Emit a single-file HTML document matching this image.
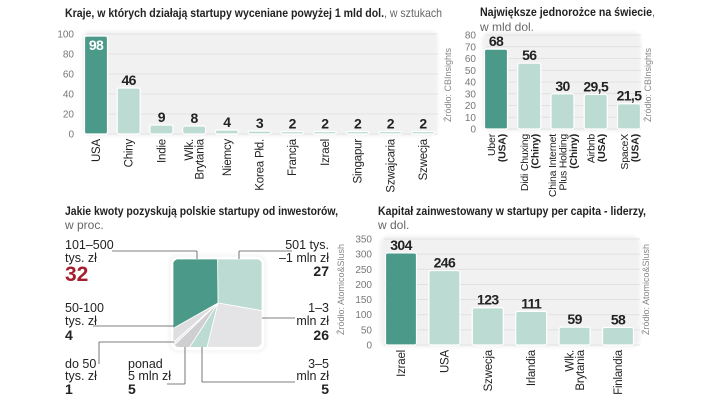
<!DOCTYPE html>
<html><head><meta charset="utf-8">
<style>
html,body{margin:0;padding:0;background:#fff;}
svg{display:block;font-family:"Liberation Sans Narrow","Liberation Sans",sans-serif;}
.t{font-weight:bold;font-size:12px;fill:#222;}
.s{font-size:12px;fill:#666;}
.tick{font-size:10px;fill:#777;}
.cat{font-size:11.5px;fill:#222;letter-spacing:-0.2px;}
.val{font-size:14px;font-weight:bold;fill:#222;letter-spacing:-0.6px;}
.src{font-size:9px;fill:#888;}
.pl{font-size:12.5px;fill:#222;}
.pv{font-size:14px;font-weight:bold;fill:#222;}
</style></head>
<body>
<svg id="root" width="720" height="406" viewBox="0 0 720 406">
<defs>
<filter id="sh" x="-10%" y="-10%" width="120%" height="120%"><feGaussianBlur stdDeviation="1.5"/></filter>
<clipPath id="sq"><rect x="173" y="259" width="89" height="88" rx="6"/></clipPath>
</defs>
<!-- titles -->
<text x="65" y="17" class="t" textLength="377" lengthAdjust="spacingAndGlyphs">Kraje, w których działają startupy wyceniane powyżej 1 mld dol.<tspan class="s" style="font-weight:normal">, w sztukach</tspan></text>
<text x="480" y="16" class="t" textLength="175" lengthAdjust="spacingAndGlyphs">Największe jednorożce na świecie<tspan class="s" style="font-weight:normal">,</tspan></text>
<text x="480" y="31" class="s">w mld dol.</text>
<text x="65" y="215" class="t" textLength="273" lengthAdjust="spacingAndGlyphs">Jakie kwoty pozyskują polskie startupy od inwestorów,</text>
<text x="65" y="229" class="s">w proc.</text>
<text x="378" y="215" class="t" textLength="268" lengthAdjust="spacingAndGlyphs">Kapitał zainwestowany w startupy per capita - liderzy,</text>
<text x="378" y="229" class="s">w dol.</text>
<text transform="translate(451,122) rotate(-90)" class="src">Źródło: CBInsights</text>
<text transform="translate(651,122) rotate(-90)" class="src">Źródło: CBInsights</text>
<text transform="translate(344,335) rotate(-90)" class="src">Źródło: Atomico&amp;Slush</text>
<text transform="translate(649,335) rotate(-90)" class="src">Źródło: Atomico&amp;Slush</text>
<g id="g1"></g><g id="g2"></g><g id="g3"></g><g id="g4"></g>
</svg>
<script>
// Chart 1 data
const c1Cats = [["USA"],["Chiny"],["Indie"],["Wlk.","Brytania"],["Niemcy"],["Korea Płd."],["Francja"],["Izrael"],["Singapur"],["Szwajcaria"],["Szwecja"]];
const c1Vals = [98,46,9,8,4,3,2,2,2,2,2];
const c1Ticks = [0,20,40,60,80,100];
// Chart 2 data
const c2Cats = [["Uber","(USA)"],["Didi Chuxing","(Chiny)"],["China Internet","Plus Holding","(Chiny)"],["Airbnb","(USA)"],["SpaceX","(USA)"]];
const c2Vals = [68,56,30,29.5,21.5];
const c2Labels = ["68","56","30","29,5","21,5"];
const c2Ticks = [0,10,20,30,40,50,60,70,80];
// Chart 3 data (clockwise from top)
const c3Names = ["501 tys.–1 mln zł","1–3 mln zł","3–5 mln zł","ponad 5 mln zł","do 50 tys. zł","50-100 tys. zł","101–500 tys. zł"];
const c3Vals = [27,26,5,5,1,4,32];
// Chart 4 data
const c4Cats = [["Izrael"],["USA"],["Szwecja"],["Irlandia"],["Wlk.","Brytania"],["Finlandia"]];
const c4Vals = [304,246,123,111,59,58];
const c4Ticks = [0,50,100,150,200,250,300,350];

const NS="http://www.w3.org/2000/svg";
function mk(parent,tag,attrs,txt){const e=document.createElementNS(NS,tag);for(const k in attrs)e.setAttribute(k,attrs[k]);if(txt!==undefined)e.textContent=txt;parent.appendChild(e);return e;}

function barChart(gid,o){
  const g=document.getElementById(gid);
  const y=v=>o.y0-(v/o.max)*(o.y0-o.y1);
  const bg=mk(g,'rect',{x:o.px0,y:o.y1-3,width:o.px1-o.px0,height:o.y0-o.y1+5,rx:8,fill:'#f1f1f2',filter:'url(#sh)'});
  
  
  o.ticks.forEach(t=>{
    const gl=mk(g,'line',{x1:o.px0+4,x2:o.px1,y1:y(t),y2:y(t),stroke:'#dcdcdc','stroke-width':0.8});
    
    
    const tl=mk(g,'text',{x:o.tx,y:y(t)+3.5,'text-anchor':'end',class:'tick'},String(t));
    
    
  });
  const n=o.vals.length, step=(o.b1-o.b0)/(n-1);
  o.vals.forEach((v,i)=>{
    const cx=o.b0+i*step, top=y(v), h=Math.max(o.y0-top,2.5);
    const r=mk(g,'rect',{x:cx-o.bw/2,y:o.y0-h,width:o.bw,height:h,rx:2,fill:i===0?'#4b9a89':'#bcdcd3',stroke:'#fff','stroke-width':1.2});
    
    
    const inside=(i===0&&o.insideFirst);
    const vl=mk(g,'text',{x:cx,y:inside?top+14:o.y0-h-3,'text-anchor':'middle',class:'val',style:inside?'fill:#fff':''},o.labels?o.labels[i]:String(v));
    
    
    const lines=o.cats[i], lh=10.5;
    const lg=mk(g,'g',{transform:`translate(${cx},${o.y0+5}) rotate(-90)`});
    lines.forEach((ln,j)=>{
      const dy=(j-(lines.length-1)/2)*lh+4;
      const bold=o.boldParen&&ln.startsWith('(');
      const t=mk(lg,'text',{x:0,y:dy,'text-anchor':'end',class:'cat',style:(bold?'font-weight:bold;':'')+(o.catSize?`font-size:${o.catSize}px`:'')},ln);
      
      
    });
  });
}
barChart('g1',{vals:c1Vals,cats:c1Cats,ticks:c1Ticks,max:100,y0:134,y1:34,px0:82,px1:438,tx:74,b0:96,b1:423,bw:23,insideFirst:true});
barChart('g2',{vals:c2Vals,cats:c2Cats,labels:c2Labels,ticks:c2Ticks,max:80,y0:129,y1:35,px0:482,px1:641,tx:476,b0:496,b1:629,bw:23,boldParen:true,catSize:10.5});
barChart('g4',{vals:c4Vals,cats:c4Cats,ticks:c4Ticks,max:350,y0:345,y1:239,px0:380,px1:640,tx:372,b0:401,b1:618,bw:31});

// Chart 3: square pie, perimeter-proportional
(function(){
  const g=document.getElementById('g3');
  const X0=173,Y0=259,S=89,cx=218,cy=303;
  const fr=mk(g,'rect',{x:X0-3,y:Y0-3,width:S+6,height:S+6,rx:8,fill:'#fff',stroke:'#ddd','stroke-width':1,filter:'url(#sh)'});
  
  
  mk(g,'rect',{x:X0-2,y:Y0-2,width:S+4,height:S+4,rx:7,fill:'#fff'});
  function pt(p){
    let d=p*4*S;
    const seq=[[S/2,(t)=>[X0+S/2+t,Y0]],[S,(t)=>[X0+S,Y0+t]],[S,(t)=>[X0+S-t,Y0+S]],[S,(t)=>[X0,Y0+S-t]],[S/2,(t)=>[X0+t,Y0]]];
    for(const [len,f] of seq){ if(d<=len) return f(d); d-=len; }
    return [X0+S/2,Y0];
  }
  const corners=[0.125,0.375,0.625,0.875];
  const cols=['#bcdcd3','#e4e4e6','#bcdcd3','#cfcfd1','#e8e8ea','#dedee0','#4b9a89'];
  const total=c3Vals.reduce((a,b)=>a+b,0);
  let acc=0;
  const cg=mk(g,'g',{'clip-path':'url(#sq)'});
  c3Vals.forEach((v,i)=>{
    const a=acc/total, b=(acc+v)/total; acc+=v;
    const pts=[[cx,cy],pt(a)];
    corners.forEach(c=>{if(c>a&&c<b)pts.push(pt(c));});
    pts.push(pt(b));
    const p=mk(cg,'polygon',{points:pts.map(q=>q.join(',')).join(' '),fill:cols[i],stroke:'#fff','stroke-width':0.8});
    
    
  });
  const L=[[112,251,197,251],[197,251,197,259],[239,251,292,251],[239,251,239,259],[93,326,174,326],[262,318,295,318],[99,342,174,342],[99,342,99,364],[185,347,185,384],[167,384,185,384],[202,347,202,382],[202,382,295,382]];
  L.forEach(l=>{const e=mk(g,'line',{x1:l[0],y1:l[1],x2:l[2],y2:l[3],stroke:'#555','stroke-width':0.8});
    
    });
  const lab=[
    [65,'start',[["101–500",249],["tys. zł",262]],"32",281,'#a41e2e',21],
    [329,'end',[["501 tys.",249],["–1 mln zł",262]],"27",276,'#222',14],
    [65,'start',[["50-100",312],["tys. zł",325]],"4",340,'#222',14],
    [329,'end',[["1–3",312],["mln zł",325]],"26",340,'#222',14],
    [65,'start',[["do 50",368],["tys. zł",380]],"1",394,'#222',14],
    [128,'start',[["ponad",368],["5 mln zł",380]],"5",394,'#222',14],
    [329,'end',[["3–5",368],["mln zł",380]],"5",394,'#222',14]
  ];
  lab.forEach(l=>{
    l[2].forEach(s=>{const t=mk(g,'text',{x:l[0],y:s[1],'text-anchor':l[1],class:'pl'},s[0]);
      
      });
    const v=mk(g,'text',{x:l[0],y:l[4],'text-anchor':l[1],class:'pv',style:`fill:${l[5]};font-size:${l[6]}px`},l[3]);
    
    
  });
})();
</script>
</body></html>
